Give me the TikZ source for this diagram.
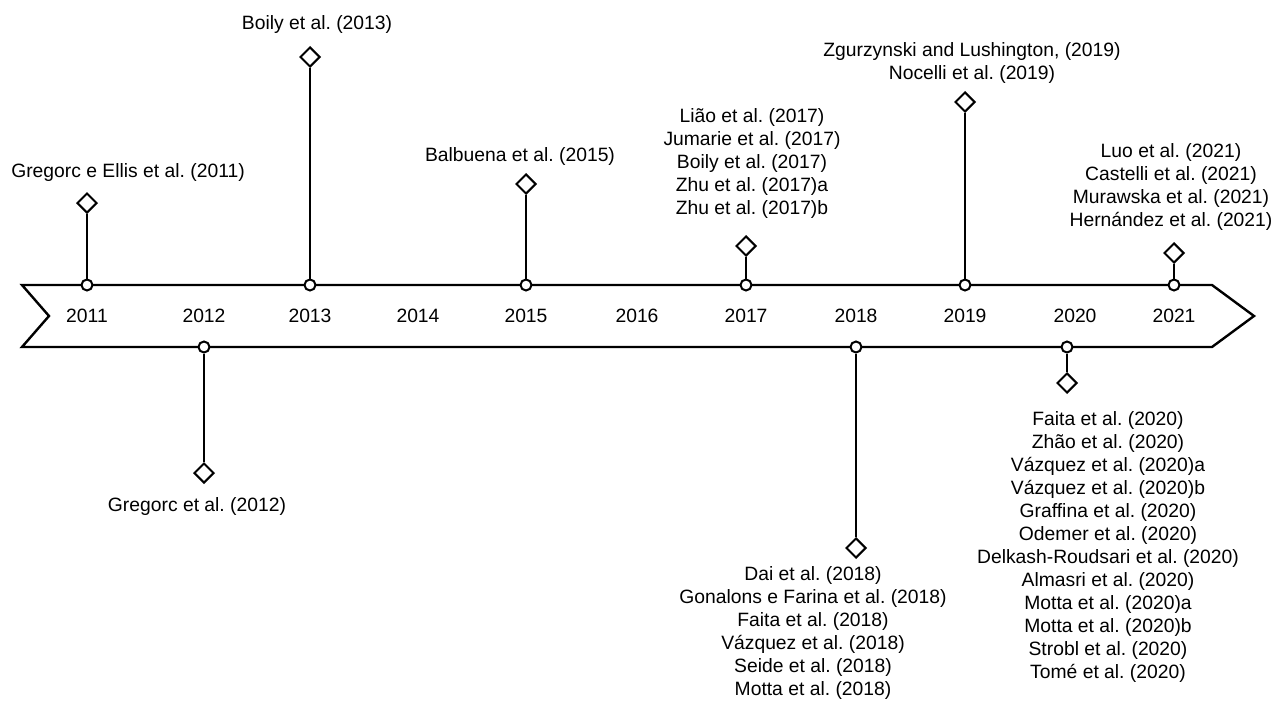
\documentclass[tikz,border=0pt]{standalone}
\usepackage{fontspec}
\setmainfont{Liberation Sans}
\usetikzlibrary{shapes.geometric}
\frenchspacing
\begin{document}
\begin{tikzpicture}[x=1pt,y=-1pt,
  line width=2.4pt,
  band/.style={draw, line join=miter},
  dot/.style={circle, draw, fill=white, minimum size=11pt, inner sep=0pt, line width=2pt},
  diam/.style={diamond, draw, fill=white, minimum width=20pt, minimum height=20pt, inner sep=0pt, line width=2pt},
  stem/.style={draw, line width=2.4pt},
  lab/.style={align=center, inner sep=0pt, font={\fontsize{19.3}{23}\selectfont\frenchspacing}},
  yr/.style={inner sep=0pt, font={\fontsize{19.3}{23}\selectfont}}
]
\useasboundingbox (0,0) rectangle (1275,701);
% timeline band
\draw[band] (22,285) -- (1212,285) -- (1254,316) -- (1212,347) -- (22,347) -- (49,316) -- cycle;
% years
\node[yr] (y2011) at (87,316) {2011};
\node[yr] (y2012) at (204,316) {2012};
\node[yr] (y2013) at (310,316) {2013};
\node[yr] (y2014) at (418,316) {2014};
\node[yr] (y2015) at (526,316) {2015};
\node[yr] (y2016) at (637,316) {2016};
\node[yr] (y2017) at (746,316) {2017};
\node[yr] (y2018) at (856,316) {2018};
\node[yr] (y2019) at (965,316) {2019};
\node[yr] (y2020) at (1075,316) {2020};
\node[yr] (y2021) at (1174,316) {2021};
% circles on the band
\node[dot] (c2011) at (87,285) {};
\node[dot] (c2012) at (204,347) {};
\node[dot] (c2013) at (310,285) {};
\node[dot] (c2015) at (526,285) {};
\node[dot] (c2017) at (746,285) {};
\node[dot] (c2018) at (856,347) {};
\node[dot] (c2019) at (965,285) {};
\node[dot] (c2020) at (1067,347) {};
\node[dot] (c2021) at (1174,285) {};
% diamonds
\node[diam] (d2011) at (87,203) {};
\node[diam] (d2012) at (204,473) {};
\node[diam] (d2013) at (310,57) {};
\node[diam] (d2015) at (526,184) {};
\node[diam] (d2017) at (746,246) {};
\node[diam] (d2018) at (856,548) {};
\node[diam] (d2019) at (965,102) {};
\node[diam] (d2020) at (1067,383) {};
\node[diam] (d2021) at (1174,253) {};
% stems
\draw[stem] (c2011) -- (d2011);
\draw[stem] (c2012) -- (d2012);
\draw[stem] (c2013) -- (d2013);
\draw[stem] (c2015) -- (d2015);
\draw[stem] (c2017) -- (d2017);
\draw[stem] (c2018) -- (d2018);
\draw[stem] (c2019) -- (d2019);
\draw[stem] (c2020) -- (d2020);
\draw[stem] (c2021) -- (d2021);
% labels
\node[lab] (l2011) at (128,173) {Gregorc e Ellis et al. (2011)};
\node[lab] (l2012) at (197,507) {Gregorc et al. (2012)};
\node[lab] (l2013) at (317,25) {Boily et al. (2013)};
\node[lab] (l2015) at (520,157) {Balbuena et al. (2015)};
\node[lab] (l2017) at (752,164) {Lião et al. (2017)\\Jumarie et al. (2017)\\Boily et al. (2017)\\Zhu et al. (2017)a\\Zhu et al. (2017)b};
\node[lab] (l2018) at (813,632.5) {Dai et al. (2018)\\Gonalons e Farina et al. (2018)\\Faita et al. (2018)\\Vázquez et al. (2018)\\Seide et al. (2018)\\Motta et al. (2018)};
\node[lab] (l2019) at (972,63.5) {Zgurzynski and Lushington, (2019)\\Nocelli et al. (2019)};
\node[lab] (l2020) at (1108,546.5) {Faita et al. (2020)\\Zhão et al. (2020)\\Vázquez et al. (2020)a\\Vázquez et al. (2020)b\\Graffina et al. (2020)\\Odemer et al. (2020)\\Delkash-Roudsari et al. (2020)\\Almasri et al. (2020)\\Motta et al. (2020)a\\Motta et al. (2020)b\\Strobl et al. (2020)\\Tomé et al. (2020)};
\node[lab] (l2021) at (1171,187.5) {Luo et al. (2021)\\Castelli et al. (2021)\\Murawska et al. (2021)\\Hernández et al. (2021)};
\end{tikzpicture}
\end{document}
